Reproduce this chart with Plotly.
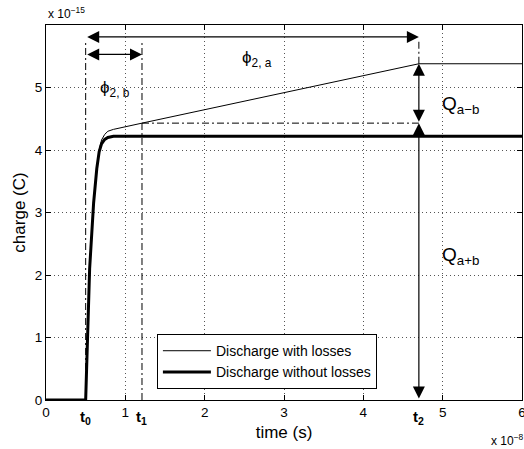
import plotly.graph_objects as go

# time in units of 1e-8 s, charge in units of 1e-15 C
t_lossless = [0, 0.50, 0.55, 0.60, 0.64, 0.67, 0.70, 0.74, 0.78, 0.85, 1.0, 6.0]
q_lossless = [0, 0, 2.10, 3.15, 3.70, 3.97, 4.10, 4.17, 4.20, 4.22, 4.22, 4.22]

t_losses = [0, 0.50, 0.55, 0.60, 0.64, 0.67, 0.70, 0.74, 0.78, 0.85, 1.21, 4.70, 6.0]
q_losses = [0, 0, 2.10, 3.15, 3.72, 4.00, 4.16, 4.25, 4.30, 4.33, 4.43, 5.38, 5.38]

x_ticks = [0, 1, 2, 3, 4, 5, 6]
y_ticks = [0, 1, 2, 3, 4, 5]

# marker times and levels
t0, t1, t2 = 0.50, 1.21, 4.70
q_final_losses = 5.38
q_at_t1 = 4.43
phi_a_level = 5.81
phi_b_level = 5.53
guide_top = 5.75

FONT = "Liberation Sans, Arial, Helvetica, sans-serif"

fig = go.Figure()
fig.add_trace(go.Scatter(x=t_losses, y=q_losses, mode="lines",
                         line=dict(color="black", width=1),
                         name="Discharge with losses"))
fig.add_trace(go.Scatter(x=t_lossless, y=q_lossless, mode="lines",
                         line=dict(color="black", width=3),
                         name="Discharge without losses"))

dashdot = "7px,3px,2px,3px"
shapes = [
    dict(type="line", xref="x", yref="y", x0=t0, x1=t0, y0=0, y1=guide_top,
         line=dict(color="black", width=1, dash=dashdot)),
    dict(type="line", xref="x", yref="y", x0=t1, x1=t1, y0=0, y1=guide_top,
         line=dict(color="black", width=1, dash=dashdot)),
    dict(type="line", xref="x", yref="y", x0=t2, x1=t2, y0=q_final_losses, y1=guide_top,
         line=dict(color="black", width=1, dash=dashdot)),
    dict(type="line", xref="x", yref="y", x0=t1, x1=t2, y0=q_at_t1, y1=q_at_t1,
         line=dict(color="black", width=1, dash=dashdot)),
]

def double_arrow(xa, ya, xb, yb):
    return dict(x=xb, y=yb, ax=xa, ay=ya, xref="x", yref="y", axref="x", ayref="y",
                text="", showarrow=True, arrowhead=2, startarrowhead=2,
                arrowside="end+start", arrowsize=2.0, startarrowsize=2.0,
                arrowwidth=1.2, arrowcolor="black", standoff=0, startstandoff=0)

annotations = [
    double_arrow(t0, phi_a_level, t2, phi_a_level),
    double_arrow(t0, phi_b_level, t1, phi_b_level),
    double_arrow(t2, q_at_t1, t2, q_final_losses),
    double_arrow(t2, 0, t2, q_at_t1),
]

def label(x, y, text, size=17, **kw):
    d = dict(x=x, y=y, xref="x", yref="y", text=text, showarrow=False,
             font=dict(family=FONT, size=size, color="black"))
    d.update(kw)
    return d

annotations += [
    label(2.66, 5.45, "ϕ<sub>2, a</sub>"),
    label(0.87, 4.98, "ϕ<sub>2, b</sub>"),
    label(5.22, 4.72, "Q<sub>a−b</sub>", size=19),
    label(5.22, 2.30, "Q<sub>a+b</sub>", size=19),
]
for tv, name in [(t0, "t<sub>0</sub>"), (t1, "t<sub>1</sub>"), (t2, "t<sub>2</sub>")]:
    annotations.append(dict(x=tv, y=0, xref="x", yref="y", text="<b>" + name + "</b>",
                            showarrow=False, yanchor="top", yshift=-6,
                            font=dict(family=FONT, size=15, color="black")))

annotations += [
    dict(x=0, y=1, xref="paper", yref="paper", xanchor="left", yanchor="bottom",
         yshift=2, text="x 10<sup>−15</sup>", showarrow=False,
         font=dict(family=FONT, size=12, color="black")),
    dict(x=1, y=0, xref="paper", yref="paper", xanchor="right", yanchor="top",
         xshift=4, yshift=-30, text="x 10<sup>−8</sup>", showarrow=False,
         font=dict(family=FONT, size=12, color="black")),
]

axis_common = dict(showline=True, linecolor="black", linewidth=1, mirror="ticks",
                   ticks="inside", ticklen=5, tickcolor="black",
                   showgrid=True, gridcolor="#555", griddash="1px,3px", gridwidth=1,
                   zeroline=False, ticklabeloverflow="allow", automargin=False,
                   tickfont=dict(family=FONT, size=13.5, color="black"))

fig.update_layout(
    width=524, height=449,
    margin=dict(l=46, r=2, t=25, b=49, autoexpand=False),
    plot_bgcolor="white", paper_bgcolor="white",
    font=dict(family=FONT, size=13, color="black"),
    xaxis=dict(range=[0, 6], tickvals=x_ticks, ticktext=[str(v) for v in x_ticks],
               title=dict(text="time (s)", standoff=6, font=dict(size=17)), **axis_common),
    yaxis=dict(range=[0, 6], tickvals=y_ticks, ticktext=[str(v) for v in y_ticks],
               title=dict(text="charge (C)", standoff=4, font=dict(size=17)), **axis_common),
    legend=dict(x=0.233, y=0.029, xanchor="left", yanchor="bottom",
                bordercolor="black", borderwidth=1, bgcolor="white",
                font=dict(family=FONT, size=14, color="black"),
                tracegroupgap=0, itemwidth=48),
    shapes=shapes,
    annotations=annotations,
)

fig.write_html("out.html")
